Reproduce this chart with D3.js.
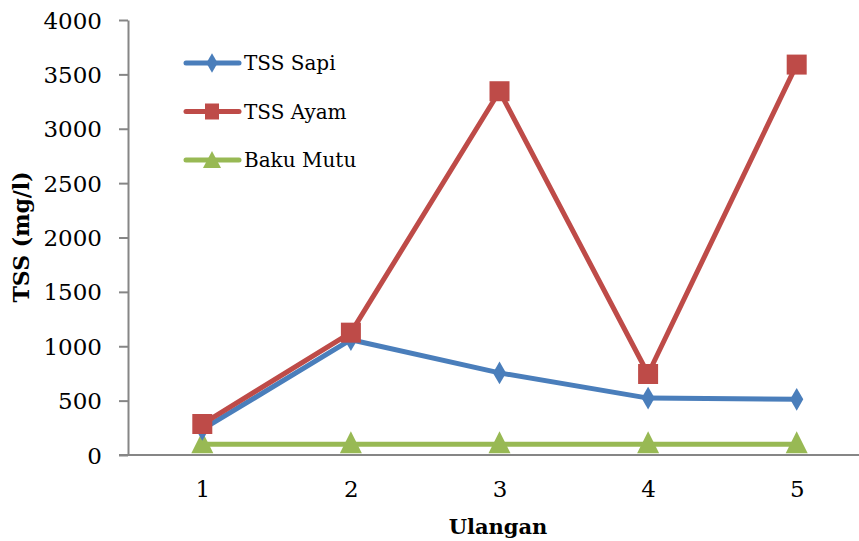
<!DOCTYPE html>
<html>
<head>
<meta charset="utf-8">
<style>
  body { margin: 0; background: #fff; }
  text { font-family: "DejaVu Serif", Cambria, serif; fill: #000; }
  .axis path, .axis line { stroke: #868686; stroke-width: 2px; }
</style>
</head>
<body>
<svg width="859" height="541"></svg>
<script src="https://cdn.jsdelivr.net/npm/d3@7"></script>
<script>
var categories = ["1", "2", "3", "4", "5"];
var tssSapi = [235, 1060, 755, 523, 512];
var tssAyam = [285, 1125, 3345, 745, 3590];
var bakuMutu = [100, 100, 100, 100, 100];
var yTicks = [0, 500, 1000, 1500, 2000, 2500, 3000, 3500, 4000];

var series = [
  { name: "TSS Sapi", values: tssSapi, color: "#4a7ebb", marker: "diamond" },
  { name: "TSS Ayam", values: tssAyam, color: "#be4b48", marker: "square" },
  { name: "Baku Mutu", values: bakuMutu, color: "#98b954", marker: "triangle" }
];

var svg = d3.select("svg"),
    plotLeft = 128, plotTop = 20, plotBottom = 455, plotRight = 871;

var x = d3.scalePoint()
    .domain(categories)
    .range([plotLeft, plotRight])
    .padding(0.5);

var y = d3.scaleLinear()
    .domain([0, 4000])
    .range([plotBottom, plotTop]);

// y axis
var yAxis = svg.append("g")
    .attr("class", "axis")
    .attr("transform", "translate(" + plotLeft + ",0)")
    .call(d3.axisLeft(y).tickValues(yTicks).tickFormat(d3.format("d")).tickSize(9).tickSizeOuter(0).tickPadding(17));
yAxis.selectAll("text").style("font-size", "23px").attr("dy", "0.35em");

// x axis
var xAxis = svg.append("g")
    .attr("class", "axis")
    .attr("transform", "translate(0," + plotBottom + ")")
    .call(d3.axisBottom(x).tickSize(0).tickPadding(26));
xAxis.select(".domain").attr("d", "M" + (plotLeft - 9) + ",0H" + plotRight);
xAxis.selectAll("text").style("font-size", "23px");

var line = d3.line()
    .x(function(d, i) { return x(categories[i]); })
    .y(function(d) { return y(d); });

function markerPath(type) {
  if (type === "diamond") return d3.symbol().type(d3.symbolDiamond).size(150)();
  if (type === "square") return "M-10,-10H10V10H-10Z";
  return "M0,-13L11,9H-11Z";
}

// green first, then blue, red on top
[series[2], series[0], series[1]].forEach(function(s) {
  var g = svg.append("g");
  g.append("path")
    .attr("d", line(s.values))
    .attr("fill", "none")
    .attr("stroke", s.color)
    .attr("stroke-width", 5)
    .attr("stroke-linejoin", "round");
  g.selectAll("path.m")
    .data(s.values)
    .enter().append("path")
    .attr("class", "m")
    .attr("d", markerPath(s.marker))
    .attr("transform", function(d, i) { return "translate(" + x(categories[i]) + "," + y(d) + ")"; })
    .attr("fill", s.color);
});

// legend
var legend = svg.append("g");
series.forEach(function(s, i) {
  var ly = 63 + i * 48.5;
  legend.append("line")
    .attr("x1", 186).attr("x2", 239)
    .attr("y1", ly).attr("y2", ly)
    .attr("stroke", s.color)
    .attr("stroke-width", 5)
    .attr("stroke-linecap", "round");
  legend.append("path")
    .attr("d", s.marker === "diamond" ? d3.symbol().type(d3.symbolDiamond).size(110)() :
               s.marker === "square" ? "M-7,-8H7V8H-7Z" : "M0,-9L9,8H-9Z")
    .attr("transform", "translate(212," + ly + ")")
    .attr("fill", s.color);
  legend.append("text")
    .attr("x", 244).attr("y", ly)
    .attr("dy", "0.35em")
    .style("font-size", "20px")
    .text(s.name);
});

// axis titles
svg.append("text")
  .attr("transform", "translate(29,237) rotate(-90)")
  .attr("text-anchor", "middle")
  .style("font-size", "22px")
  .style("font-weight", "bold")
  .text("TSS (mg/l)");

svg.append("text")
  .attr("x", 498).attr("y", 534)
  .attr("text-anchor", "middle")
  .style("font-size", "21px")
  .style("font-weight", "bold")
  .text("Ulangan");
</script>
</body>
</html>
